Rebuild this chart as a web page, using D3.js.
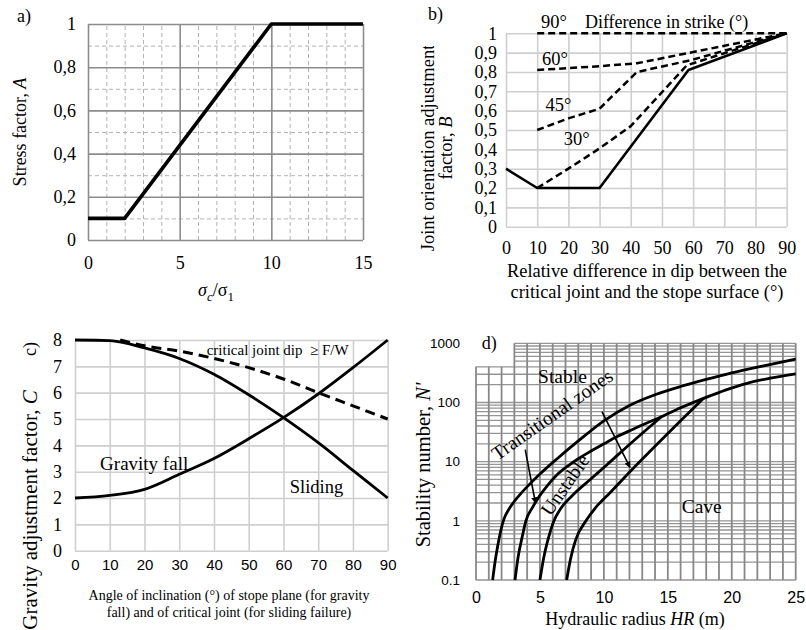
<!DOCTYPE html>
<html><head><meta charset="utf-8">
<script src="https://cdn.jsdelivr.net/npm/d3@7"></script>
<style>body{margin:0;background:#fff}svg{display:block}</style>
</head><body>
<svg id="chart" width="806" height="630"></svg>
<script>
// ---------- Panel a: stress factor ----------
const aRatio = [0, 2, 10, 15];
const aFactor = [0.1, 0.1, 1, 1];
const aXTicks = [0, 5, 10, 15];
const aYTicks = [0, 0.2, 0.4, 0.6, 0.8, 1];
const aYLabels = ["0", "0,2", "0,4", "0,6", "0,8", "1"];

// ---------- Panel b: joint orientation factor ----------
const bXTicks = [0, 10, 20, 30, 40, 50, 60, 70, 80, 90];
const bYTicks = [0, 0.1, 0.2, 0.3, 0.4, 0.5, 0.6, 0.7, 0.8, 0.9, 1];
const bYLabels = ["0", "0,1", "0,2", "0,3", "0,4", "0,5", "0,6", "0,7", "0,8", "0,9", "1"];
const bSolidDip = [0, 10, 30, 58.5, 90];
const bSolidB = [0.3, 0.2, 0.2, 0.81, 1];
const b30Dip = [10, 20, 30, 40, 58, 90];
const b30B = [0.2, 0.3, 0.405, 0.52, 0.835, 1];
const b45Dip = [10, 20, 30, 35, 42, 59, 90];
const b45B = [0.5, 0.56, 0.61, 0.69, 0.8, 0.86, 1];
const b60Dip = [10, 30, 42, 90];
const b60B = [0.81, 0.83, 0.845, 1];
const b90Dip = [10, 90];
const b90B = [1, 1];
const bLabelText = ["90°", "60°", "45°", "30°"];
const bLabelDip = [15.4, 15.7, 16.8, 22.7];
const bLabelB = [1.06, 0.871, 0.63, 0.457];

// ---------- Panel c: gravity adjustment factor ----------
const cXTicks = [0, 10, 20, 30, 40, 50, 60, 70, 80, 90];
const cYTicks = [0, 1, 2, 3, 4, 5, 6, 7, 8];
const cAngle = [0, 10, 20, 30, 40, 50, 60, 70, 80, 90];
const cGravity = [2, 2.1, 2.33, 2.9, 3.5, 4.25, 5.05, 5.95, 6.95, 8];
const cSliding = [8, 7.98, 7.7, 7.3, 6.7, 5.92, 5.05, 4.1, 3.05, 2];
const cDipAngle = [13, 20, 30, 40, 50, 60, 70, 80, 90];
const cDipFW = [8, 7.78, 7.58, 7.3, 6.95, 6.52, 6.0, 5.5, 5.0];

// ---------- Panel d: stability graph ----------
const dXTicks = [0, 5, 10, 15, 20, 25];
const dYTicks = [0.1, 1, 10, 100, 1000];
const dYLabels = ["0.1", "1", "10", "100", "1000"];
const d1HR = [1.3, 1.5, 1.7, 1.9, 2.14, 2.3, 2.5, 3.0, 3.5, 4.2, 5.0, 6.3, 8.0, 10, 12, 14, 16, 18, 20, 22.5, 25];
const d1N = [0.1, 0.21, 0.38, 0.63, 1.0, 1.23, 1.48, 2.14, 2.88, 4.17, 6.17, 11.0, 22.4, 49, 89, 135, 186, 245, 316, 417, 543];
const d2HR = [3.05, 3.3, 3.6, 3.9, 4.4, 5.0, 5.6, 6.3, 7.2, 8.0, 9.0, 10, 11, 12, 13, 14.5, 16, 17.8, 19.5, 21.2, 23, 25];
const d2N = [0.1, 0.25, 0.52, 1.0, 1.66, 2.69, 3.98, 5.89, 8.51, 11.2, 15.1, 20, 26.3, 33.1, 41.7, 57.5, 81.3, 117.5, 162, 211, 257, 305];
const d3HR = [5.0, 5.3, 5.65, 6.05, 6.6, 7.5, 9, 10.2, 12, 14.5];
const d3N = [0.1, 0.24, 0.5, 0.95, 1.58, 2.63, 5.13, 8.71, 19.5, 57.5];
const d4HR = [7.09, 7.4, 7.8, 8.6, 9.5, 10.5, 12.17, 14, 16, 17.8];
const d4N = [0.1, 0.23, 0.48, 1.0, 1.82, 3.02, 7.24, 18.2, 49, 117.5];
const dArrowFromHR = [3.85, 9.85];
const dArrowFromN = [16, 70];
const dArrowToHR = [4.65, 12.04];
const dArrowToN = [2.0, 8.0];

const SERIF = "'Liberation Serif', 'Tinos', 'Times New Roman', 'DejaVu Serif', serif";
const SANS = "'Liberation Sans', Arial, sans-serif";
const svg = d3.select("#chart");
const zip = (xs, ys) => xs.map((x, i) => [x, ys[i]]);

function addText(g, x, y, parts, o = {}) {
  const t = g.append("text").attr("x", x).attr("y", y)
    .style("font-family", o.family || SERIF).style("font-size", (o.size || 18) + "px")
    .attr("text-anchor", o.anchor || "middle").attr("fill", "#000");
  if (o.rotate != null) t.attr("transform", `rotate(${o.rotate},${x},${y})`);
  if (o.dy) t.attr("dy", o.dy);
  if (o.pre) t.style("white-space", "pre");
  (typeof parts === "string" ? [[parts, false]] : parts).forEach(([s, it]) =>
    t.append("tspan").style("font-style", it ? "italic" : "normal").text(s));
  return t;
}
function grid(g, scale, vals, orient, len, pos, st) {
  const axis = (orient === "x" ? d3.axisBottom(scale) : d3.axisLeft(scale))
    .tickValues(vals).tickSize(-len).tickFormat("");
  const gg = g.append("g").attr("transform", orient === "x" ? `translate(0,${pos})` : `translate(${pos},0)`).call(axis);
  gg.select(".domain").remove();
  gg.selectAll("line").attr("stroke", st.color).attr("stroke-width", st.width).attr("stroke-dasharray", st.dash || null);
}
function labels(g, scale, vals, fmt, orient, pos, pad, size, family) {
  const axis = (orient === "x" ? d3.axisBottom(scale) : d3.axisLeft(scale))
    .tickValues(vals).tickSize(0).tickPadding(pad).tickFormat(fmt);
  const gg = g.append("g").attr("transform", orient === "x" ? `translate(0,${pos})` : `translate(${pos},0)`).call(axis);
  gg.select(".domain").remove();
  gg.attr("font-family", null).attr("font-size", null);
  gg.selectAll("text").style("font-family", family).style("font-size", size + "px").attr("fill", "#000");
}
function path(g, line, pts, w, dash) {
  g.append("path").attr("d", line(pts)).attr("fill", "none").attr("stroke", "#000")
    .attr("stroke-width", w).attr("stroke-dasharray", dash || null).attr("stroke-linejoin", "round");
}

// ================= Panel a =================
{
  const x = d3.scaleLinear().domain([0, 15]).range([88, 363]);
  const y = d3.scaleLinear().domain([0, 1]).range([240, 24]);
  const g = svg.append("g");
  const minorX = d3.range(0, 16).filter(v => v % 5 !== 0);
  const minorY = [0.1, 0.3, 0.5, 0.7, 0.9];
  grid(g, x, minorX, "x", 216, 240, {color: "#b3b3b3", width: 1, dash: "4,3"});
  grid(g, y, minorY, "y", 275, 88, {color: "#b3b3b3", width: 1, dash: "4,3"});
  grid(g, x, aXTicks, "x", 216, 240, {color: "#8c8c8c", width: 1.6});
  grid(g, y, aYTicks, "y", 275, 88, {color: "#8c8c8c", width: 1.6});
  labels(g, x, aXTicks, d => String(d), "x", 240, 16, 18, SERIF);
  labels(g, y, aYTicks, (d, i) => aYLabels[i], "y", 88, 12, 18, SERIF);
  const line = d3.line().x(d => x(d[0])).y(d => y(d[1]));
  path(g, line, zip(aRatio, aFactor), 3.6);
  addText(g, 17, 22, "a)", {anchor: "start", size: 18});
  addText(g, 20, 132, [["Stress factor, ", false], ["A", true]], {rotate: -90, dy: "0.35em", size: 18});
  const t = g.append("text").attr("x", 216).attr("y", 296).attr("text-anchor", "middle")
    .style("font-family", SERIF).style("font-size", "18px").attr("fill", "#000");
  t.append("tspan").style("font-style", "italic").text("σ");
  t.append("tspan").style("font-style", "italic").style("font-size", "13px").attr("dy", 5).text("c");
  t.append("tspan").attr("dy", -5).text("/σ");
  t.append("tspan").style("font-size", "13px").attr("dy", 5).text("1");
}

// ================= Panel b =================
{
  const x = d3.scaleLinear().domain([0, 90]).range([506, 786.7]);
  const y = d3.scaleLinear().domain([0, 1]).range([226.7, 33.3]);
  const g = svg.append("g");
  grid(g, x, bXTicks, "x", 193.4, 226.7, {color: "#cfcfcf", width: 1.6});
  grid(g, y, bYTicks, "y", 280.7, 506, {color: "#cfcfcf", width: 1.6});
  labels(g, x, bXTicks, d => String(d), "x", 226.7, 15, 18, SERIF);
  labels(g, y, bYTicks, (d, i) => bYLabels[i], "y", 506, 9, 18, SERIF);
  const line = d3.line().x(d => x(d[0])).y(d => y(d[1]));
  path(g, line, zip(b90Dip, b90B), 2.5, "7,4");
  path(g, line, zip(b60Dip, b60B), 2.5, "7,4");
  path(g, line, zip(b45Dip, b45B), 2.5, "7,4");
  path(g, line, zip(b30Dip, b30B), 2.5, "7,4");
  path(g, line, zip(bSolidDip, bSolidB), 2.6);
  bLabelText.forEach((s, i) => addText(g, x(bLabelDip[i]), y(bLabelB[i]), s, {dy: "0.35em", size: 18.5}));
  addText(g, x(25.3), y(1.06), "Difference in strike (°)", {anchor: "start", dy: "0.35em", size: 18});
  addText(g, 428, 20, "b)", {anchor: "start", size: 18});
  addText(g, 647, 277, "Relative difference in dip between the", {size: 18.4});
  addText(g, 647, 298, "critical joint and the stope surface (°)", {size: 18.4});
  svg.append("clipPath").attr("id", "bclip").append("rect").attr("x", 395).attr("y", 46).attr("width", 70).attr("height", 300);
  const tg = g.append("g").attr("clip-path", "url(#bclip)");
  addText(tg, 428, 148, "Joint orientation adjustment", {rotate: -90, dy: "0.35em", size: 18.5});
  addText(g, 446, 148, [["factor, ", false], ["B", true]], {rotate: -90, dy: "0.35em", size: 18.5});
}

// ================= Panel c =================
{
  const x = d3.scaleLinear().domain([0, 90]).range([75, 387.7]);
  const y = d3.scaleLinear().domain([0, 8]).range([550.7, 340]);
  const g = svg.append("g");
  grid(g, x, cXTicks, "x", 210.7, 550.7, {color: "#cfcfcf", width: 1.6});
  grid(g, y, cYTicks, "y", 312.7, 75, {color: "#cfcfcf", width: 1.6});
  labels(g, x, cXTicks, d => String(d), "x", 550.7, 9, 15, SANS);
  labels(g, y, cYTicks, d => String(d), "y", 75, 13, 18, SERIF);
  const line = d3.line().x(d => x(d[0])).y(d => y(d[1])).curve(d3.curveMonotoneX);
  path(g, line, zip(cDipAngle, cDipFW), 3, "10,6");
  path(g, line, zip(cAngle, cGravity), 2.8);
  path(g, line, zip(cAngle, cSliding), 2.8);
  addText(g, x(37.9), y(7.62), "critical joint dip  ≥ F/W", {anchor: "start", dy: "0.35em", size: 15, pre: true});
  addText(g, x(19.9), y(3.33), "Gravity fall", {dy: "0.35em", size: 19});
  addText(g, x(69.5), y(2.43), "Sliding", {dy: "0.35em", size: 18.5});
  addText(g, 30, 349, "c)", {rotate: -90, dy: "0.35em", size: 18});
  addText(g, 30, 510, [["Gravity adjustment factor, ", false], ["C", true]], {rotate: -90, dy: "0.35em", size: 21});
  addText(g, 229, 600, "Angle of inclination (°) of stope plane (for gravity", {size: 14});
  addText(g, 229, 617, "fall) and of critical joint (for sliding failure)", {size: 14});
}

// ================= Panel d =================
{
  const x = d3.scaleLinear().domain([0, 25]).range([476, 795.7]);
  const y = d3.scaleLog().domain([0.1, 1000]).range([580, 343.3]);
  const g = svg.append("g");
  const vert = d3.range(0, 26);
  const horiz = [];
  [0.1, 1, 10, 100].forEach(dec => d3.range(1, 10).forEach(k => horiz.push(+(k * dec).toPrecision(3))));
  horiz.push(1000);
  g.selectAll(".hl").data(horiz).join("line")
    .attr("x1", d => d > 400 ? x(3) : x(0)).attr("x2", x(25))
    .attr("y1", d => y(d)).attr("y2", d => y(d))
    .attr("stroke", "#959595").attr("stroke-width", 1.3);
  g.selectAll(".vl").data(vert).join("line")
    .attr("x1", d => x(d)).attr("x2", d => x(d))
    .attr("y1", y(0.1)).attr("y2", d => d < 3 ? y(400) : y(1000))
    .attr("stroke", "#888").attr("stroke-width", 1.8);
  labels(g, x, dXTicks, d => String(d), "x", 580, 12, 16, SANS);
  labels(g, y, dYTicks, (d, i) => dYLabels[i], "y", 476, 16, 13.5, SANS);
  const line = d3.line().x(d => x(d[0])).y(d => y(d[1])).curve(d3.curveMonotoneX);
  path(g, line, zip(d1HR, d1N), 2.8);
  path(g, line, zip(d2HR, d2N), 2.8);
  path(g, line, zip(d3HR, d3N), 2.8);
  path(g, line, zip(d4HR, d4N), 2.8);
  svg.append("defs").append("marker").attr("id", "arr").attr("viewBox", "0 0 10 10")
    .attr("refX", 9).attr("refY", 5).attr("markerWidth", 4).attr("markerHeight", 4)
    .attr("orient", "auto").attr("markerUnits", "strokeWidth")
    .append("path").attr("d", "M0,0L10,5L0,10Z").attr("fill", "#000");
  dArrowFromHR.forEach((v, i) => {
    g.append("line").attr("x1", x(v)).attr("y1", y(dArrowFromN[i]))
      .attr("x2", x(dArrowToHR[i])).attr("y2", y(dArrowToN[i]))
      .attr("stroke", "#000").attr("stroke-width", 1.6).attr("marker-end", "url(#arr)");
  });
  addText(g, x(6.76), y(213), "Stable", {size: 19.5});
  addText(g, x(17.65), y(1.36), "Cave", {size: 19.5});
  addText(g, x(6.25), y(50.6), "Transitional zones", {rotate: -35, size: 19.5});
  addText(g, x(7.38), y(3.5), "Unstable", {rotate: -55, size: 19.5});
  addText(g, 481.7, 349, "d)", {anchor: "start", size: 18});
  addText(g, 423, 465, [["Stability number, ", false], ["N'", true]], {rotate: -90, dy: "0.35em", size: 20.5});
  addText(g, 635, 625, [["Hydraulic radius ", false], ["HR", true], [" (m)", false]], {size: 18});
}
</script>
</body></html>
